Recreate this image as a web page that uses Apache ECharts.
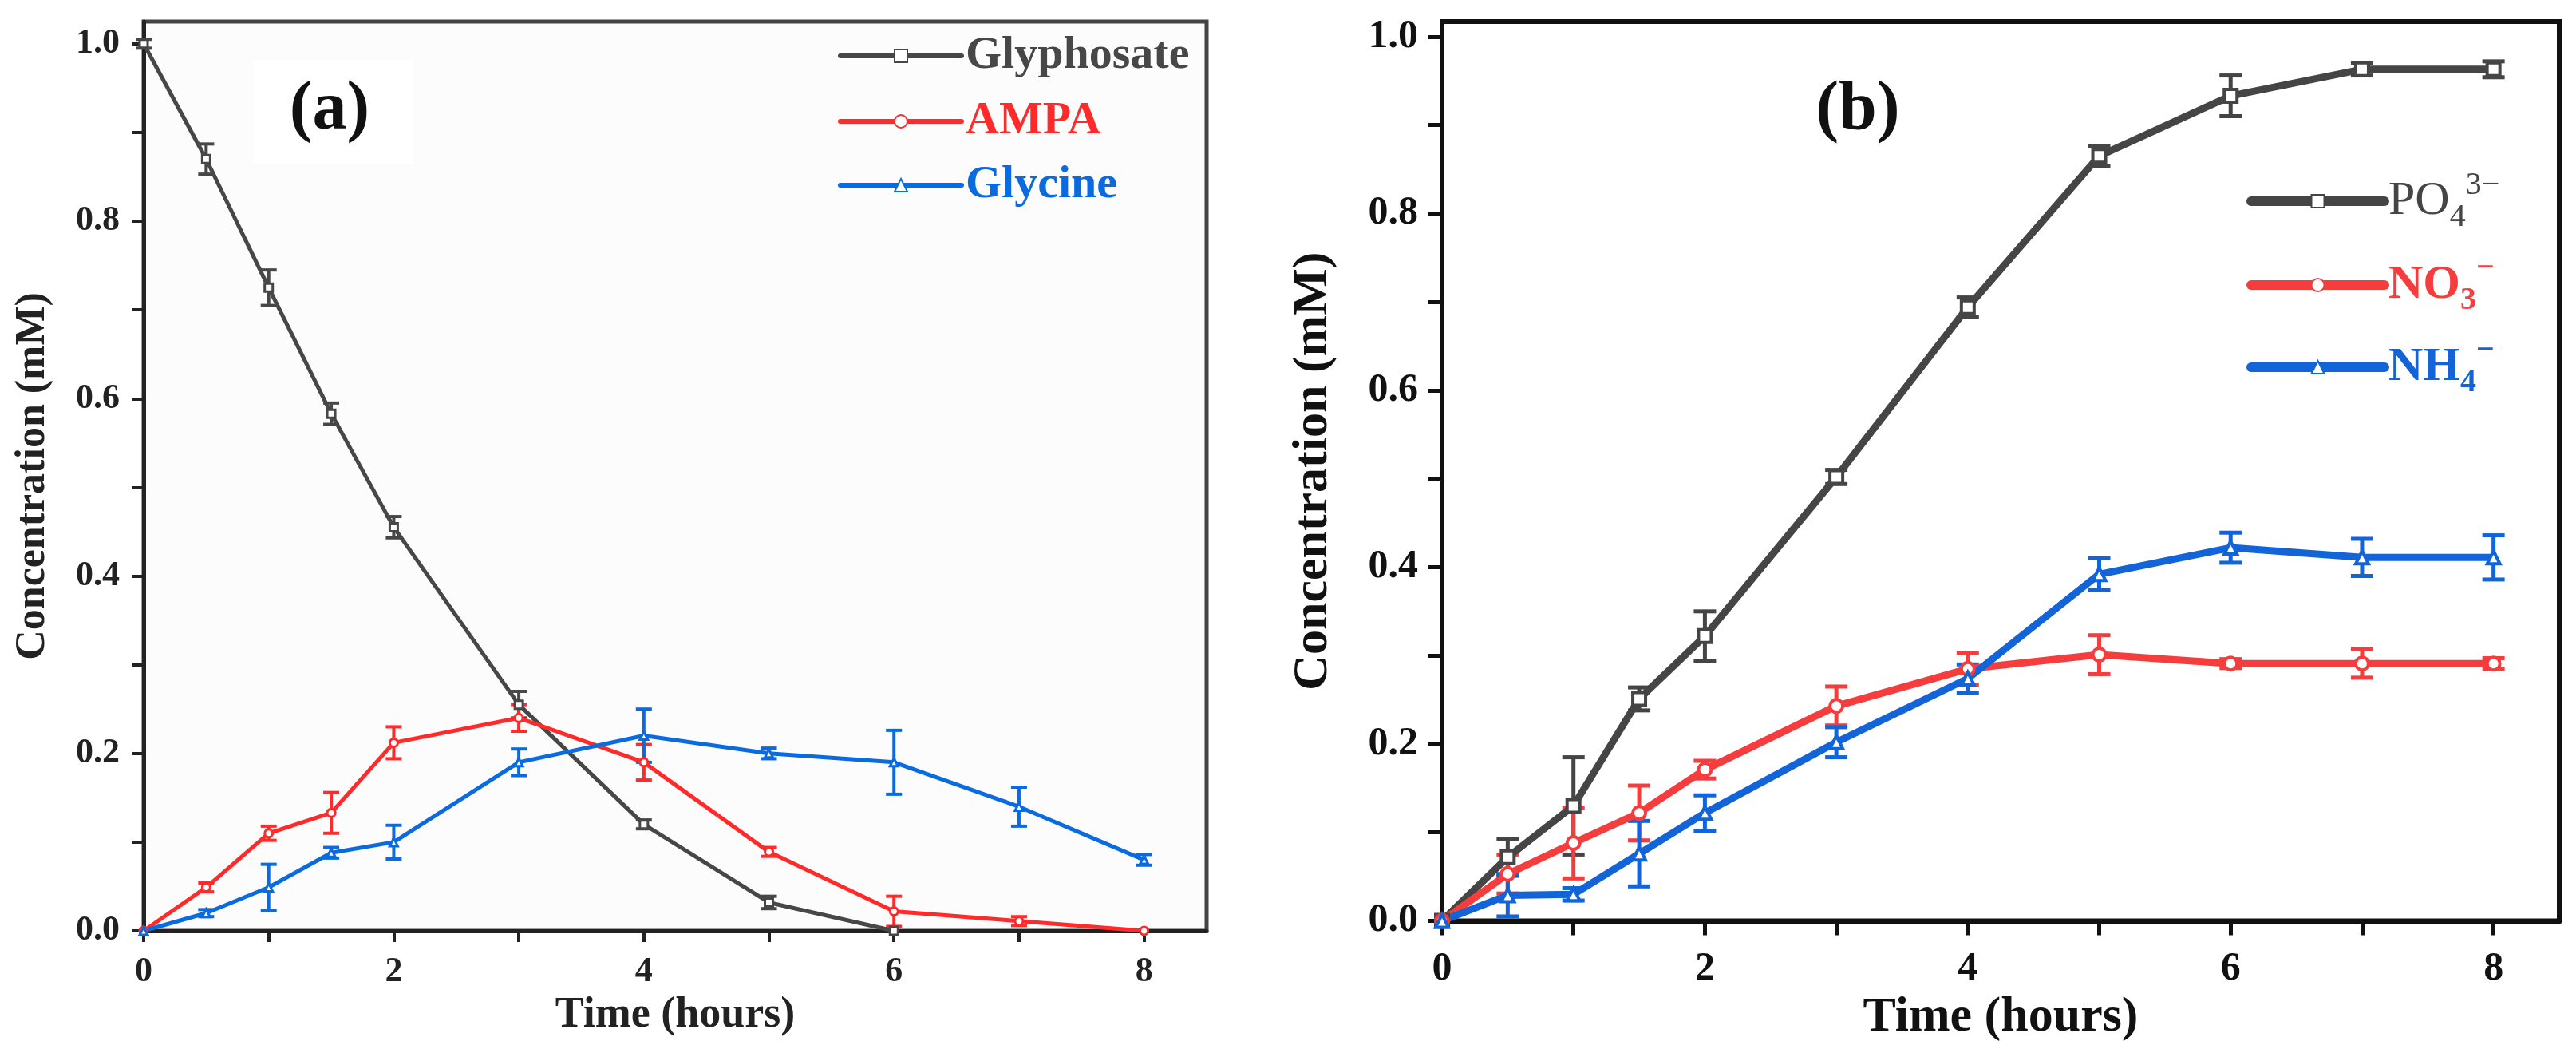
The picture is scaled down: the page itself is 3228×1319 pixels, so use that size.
<!DOCTYPE html>
<html><head><meta charset="utf-8">
<script src="https://cdn.jsdelivr.net/npm/echarts@6/dist/echarts.min.js"></script>
<style>html,body{margin:0;padding:0;background:#fff}#c{width:3228px;height:1319px}</style>
</head><body><div id="c"></div><script>
// ---------- data ----------
const timeA = [0, 0.5, 1, 1.5, 2, 3, 4, 5, 6, 7, 8];
const glyphosate    = [1.0, 0.870, 0.725, 0.583, 0.455, 0.255, 0.120, 0.032, 0.0];
const glyphosateErr = [0.005, 0.017, 0.020, 0.012, 0.012, 0.015, 0.005, 0.007, 0.0];
const ampa    = [0, 0.049, 0.110, 0.133, 0.212, 0.240, 0.190, 0.089, 0.022, 0.011, 0.0];
const ampaErr = [0, 0.005, 0.008, 0.023, 0.018, 0.015, 0.020, 0.005, 0.017, 0.005, 0.0];
const glycine    = [0, 0.020, 0.049, 0.088, 0.100, 0.190, 0.220, 0.200, 0.190, 0.140, 0.080];
const glycineErr = [0, 0.004, 0.026, 0.006, 0.019, 0.015, 0.030, 0.006, 0.036, 0.022, 0.006];

const timeB = [0, 0.5, 1, 1.5, 2, 3, 4, 5, 6, 7, 8];
const po4    = [0, 0.072, 0.130, 0.251, 0.322, 0.502, 0.694, 0.865, 0.933, 0.963, 0.963];
const po4Err = [0, 0.021, 0.055, 0.013, 0.028, 0.008, 0.011, 0.011, 0.023, 0.007, 0.009];
const no3    = [0, 0.053, 0.088, 0.122, 0.171, 0.243, 0.285, 0.301, 0.291, 0.291, 0.291];
const no3Err = [0, 0.022, 0.040, 0.031, 0.010, 0.022, 0.018, 0.022, 0.005, 0.016, 0.006];
const nh4    = [0, 0.029, 0.030, 0.076, 0.122, 0.202, 0.274, 0.392, 0.422, 0.411, 0.411];
const nh4Err = [0, 0.024, 0.007, 0.037, 0.020, 0.017, 0.016, 0.018, 0.017, 0.021, 0.025];

const xTicks = [0, 1, 2, 3, 4, 5, 6, 7, 8];
const xLabels = [0, 2, 4, 6, 8];
const yTicks = [0, 0.1, 0.2, 0.3, 0.4, 0.5, 0.6, 0.7, 0.8, 0.9, 1.0];
const yLabels = [0, 0.2, 0.4, 0.6, 0.8, 1.0];

// ---------- style ----------
const FONT = '"Liberation Serif", "Times New Roman", serif';
const A = { gray: '#474747', red: '#ff2b2b', blue: '#0a6ae0' };
const B = { gray: '#454545', red: '#f53d3d', blue: '#1264d8' };

function lineSeries(name, xs, ys, color, symbol, gi, width, symSize, bw) {
  return {
    name, type: 'line', xAxisIndex: gi, yAxisIndex: gi,
    data: ys.map((y, i) => [xs[i], y]),
    symbol, symbolSize: symSize, showSymbol: true, z: 3,
    color: color,
    lineStyle: { color, width },
    itemStyle: { color: '#fff', borderColor: color, borderWidth: bw },
    emphasis: { disabled: true }, animation: false
  };
}
function errSeries(xs, ys, es, color, gi, cap, lw) {
  return {
    type: 'custom', xAxisIndex: gi, yAxisIndex: gi, silent: true, z: 2, animation: false,
    data: ys.map((y, i) => [xs[i], y, es[i]]),
    encode: { x: 0, y: 1 },
    renderItem(params, api) {
      const x = api.value(0), y = api.value(1), e = api.value(2);
      if (!e) return null;
      const lo = api.coord([x, y - e]), hi = api.coord([x, y + e]);
      const st = { stroke: color, lineWidth: lw };
      return { type: 'group', children: [
        { type: 'line', shape: { x1: lo[0], y1: lo[1], x2: hi[0], y2: hi[1] }, style: st },
        { type: 'line', shape: { x1: lo[0] - cap, y1: lo[1], x2: lo[0] + cap, y2: lo[1] }, style: st },
        { type: 'line', shape: { x1: hi[0] - cap, y1: hi[1], x2: hi[0] + cap, y2: hi[1] }, style: st }
      ]};
    }
  };
}
function xAxis(gi, o) {
  return {
    gridIndex: gi, type: 'value', min: 0, max: 8.5, splitLine: { show: false },
    axisLine: { onZero: false, lineStyle: { color: o.c, width: o.aw } },
    axisTick: { customValues: xTicks, length: o.tl, lineStyle: { color: o.c, width: o.tw } },
    axisLabel: { customValues: xLabels, fontFamily: FONT, fontWeight: 'bold', fontSize: o.fs, color: o.c, margin: o.xm },
    name: 'Time (hours)', nameLocation: 'middle', nameGap: o.xg,
    nameTextStyle: { fontFamily: FONT, fontWeight: 'bold', fontSize: o.xfs, color: o.c }
  };
}
function yAxis(gi, o) {
  return {
    gridIndex: gi, type: 'value', min: 0, max: o.ymax, splitLine: { show: false },
    axisLine: { onZero: false, lineStyle: { color: o.c, width: o.aw } },
    axisTick: { customValues: yTicks, length: o.tl, lineStyle: { color: o.c, width: o.tw } },
    axisLabel: { customValues: yLabels, formatter: v => Number(v).toFixed(1), fontFamily: FONT, fontWeight: 'bold', fontSize: o.fs, color: o.c, margin: o.ym },
    name: 'Concentration (mM)', nameLocation: 'middle', nameGap: o.yg,
    nameTextStyle: { fontFamily: FONT, fontWeight: 'bold', fontSize: o.yfs, color: o.c }
  };
}
const oA = { c: '#222', aw: 5, tl: 14, tw: 4, fs: 44, xm: 30, ym: 30, xg: 76, yg: 112, xfs: 54, yfs: 52, ymax: 1.025 };
const oB = { c: '#111', aw: 6, tl: 18, tw: 5, fs: 50, xm: 36, ym: 30, xg: 80, yg: 130, xfs: 62, yfs: 62, ymax: 1.017 };

function legendItem(name, left, cy, w, lw, tstyle, h) {
  return {
    data: [name], left, top: cy - h / 2, padding: 0, orient: 'vertical',
    itemWidth: w, itemHeight: 20, selectedMode: false,
    lineStyle: { width: lw, cap: 'round' },
    textStyle: tstyle
  };
}
const lgA = (color) => ({ fontFamily: FONT, fontWeight: 'bold', fontSize: 58, lineHeight: 60, color });
function richSet(color, weight) {
  return {
    m: { fontFamily: FONT, fontWeight: weight, fontSize: 60, lineHeight: 80, color, verticalAlign: 'middle' },
    s: { fontFamily: FONT, fontWeight: weight, fontSize: 40, lineHeight: 40, color, verticalAlign: 'bottom' },
    p: { fontFamily: FONT, fontWeight: weight, fontSize: 40, lineHeight: 40, color, verticalAlign: 'top' }
  };
}
const rg = richSet(B.gray, 'normal'), rr = richSet(B.red, 'bold'), rb = richSet(B.blue, 'bold');
const richB = {
  gm: rg.m, gs: rg.s, gp: rg.p,
  rm: rr.m, rs: rr.s, rp: rr.p,
  bm: rb.m, bs: rb.s, bp: rb.p
};
const fmtB = {
  'PO4': '{gm|PO}{gs|4}{gp|3−}',
  'NO3': '{rm|NO}{rs|3}{rp|−}',
  'NH4': '{bm|NH}{bs|4}{bp|−}'
};
const lgB = { fontFamily: FONT, fontSize: 60, rich: richB };

const option = {
  backgroundColor: '#fff',
  animation: false,
  grid: [
    { left: 180, top: 27, width: 1332, height: 1139, show: true, borderColor: '#444', borderWidth: 5, backgroundColor: '#fcfcfc' },
    { left: 1807, top: 27, width: 1400, height: 1126.5, show: true, borderColor: '#111', borderWidth: 6 }
  ],
  xAxis: [xAxis(0, oA), xAxis(1, oB)],
  yAxis: [yAxis(0, oA), yAxis(1, oB)],
  legend: [
    legendItem('Glyphosate', 1050, 70, 152, 6, lgA(A.gray), 60),
    legendItem('AMPA', 1050, 152, 152, 6, lgA(A.red), 60),
    legendItem('Glycine', 1050, 232, 152, 6, lgA(A.blue), 60),
    Object.assign(legendItem('PO4', 2815, 252, 167, 12, lgB, 80), { formatter: n => fmtB[n] }),
    Object.assign(legendItem('NO3', 2815, 357, 167, 12, lgB, 80), { formatter: n => fmtB[n] }),
    Object.assign(legendItem('NH4', 2815, 460, 167, 12, lgB, 80), { formatter: n => fmtB[n] })
  ],
  graphic: [
    { type: 'rect', shape: { x: 318, y: 75, width: 200, height: 130 }, style: { fill: '#ffffff' }, z: 1 },
    { type: 'text', x: 413, y: 139, z: 10, style: { text: '(a)', font: 'bold 86px ' + FONT, fill: '#111', align: 'center', verticalAlign: 'middle' } },
    { type: 'text', x: 2328, y: 139, z: 10, style: { text: '(b)', font: 'bold 86px ' + FONT, fill: '#111', align: 'center', verticalAlign: 'middle' } }
  ],
  series: [
    errSeries(timeA, glyphosate, glyphosateErr, A.gray, 0, 10, 4),
    errSeries(timeA, ampa, ampaErr, A.red, 0, 10, 4),
    errSeries(timeA, glycine, glycineErr, A.blue, 0, 10, 4),
    lineSeries('Glyphosate', timeA, glyphosate, A.gray, 'rect', 0, 5, 10, 3),
    lineSeries('AMPA', timeA, ampa, A.red, 'circle', 0, 5, 10, 3),
    lineSeries('Glycine', timeA, glycine, A.blue, 'triangle', 0, 5, 10, 3),
    errSeries(timeB, po4, po4Err, B.gray, 1, 14, 5),
    errSeries(timeB, no3, no3Err, B.red, 1, 14, 5),
    errSeries(timeB, nh4, nh4Err, B.blue, 1, 14, 5),
    lineSeries('PO4', timeB, po4, B.gray, 'rect', 1, 9, 16, 4),
    lineSeries('NO3', timeB, no3, B.red, 'circle', 1, 9, 16, 4),
    lineSeries('NH4', timeB, nh4, B.blue, 'triangle', 1, 9, 16, 4)
  ]
};
const chart = echarts.init(document.getElementById('c'), null, { renderer: 'canvas' });
chart.setOption(option);
</script></body></html>
